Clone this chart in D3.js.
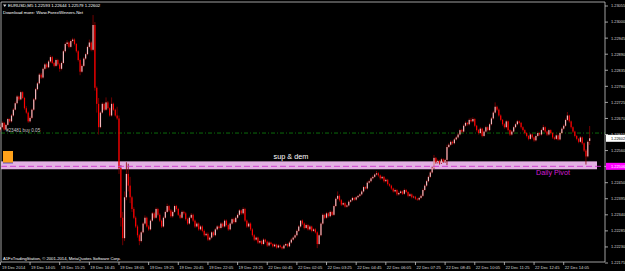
<!DOCTYPE html>
<html>
<head>
<meta charset="utf-8">
<script src="https://cdn.jsdelivr.net/npm/d3@7"></script>
<style>
  html, body { margin: 0; padding: 0; background: #000; overflow: hidden; }
  text { font-family: "Liberation Sans", Arial, sans-serif; }
</style>
</head>
<body>
<div id="chart"></div>
<script>
// EURUSD M5 bars, values are (price - 1.22) * 1e5 : [open, high, low, close]
const bars = [
  [632,652,625,640],[640,660,636,655],[655,658,628,632],[632,652,630,648],[648,672,645,668],
  [668,670,655,660],[660,685,656,680],[680,705,676,700],[700,728,697,722],[722,750,718,745],
  [745,748,730,735],[735,765,732,760],[760,763,736,740],[740,744,700,705],[705,712,686,690],
  [690,694,655,660],[660,678,656,672],[672,704,668,700],[700,740,696,735],[735,775,731,770],
  [770,795,766,790],[790,825,786,820],[820,826,805,810],[810,845,806,840],[840,860,835,855],
  [855,860,840,845],[845,870,842,865],[865,886,860,880],[880,884,856,860],[860,864,845,850],
  [850,875,846,870],[870,874,850,855],[855,860,830,840],[840,865,835,860],[860,905,856,900],
  [900,930,895,925],[925,938,918,930],[930,934,910,915],[915,940,912,935],[935,946,930,940],
  [940,944,920,925],[925,928,895,900],[900,904,865,870],[870,875,818,830],[830,856,826,850],
  [850,880,846,875],[875,895,870,890],[890,920,886,915],[915,940,910,930],[930,934,900,905],
  [905,1024,900,990],[990,1000,765,775],[775,780,690,720],[720,740,615,640],[640,695,636,690],
  [690,725,686,720],[720,724,696,700],[700,742,696,725],[725,730,700,705],[705,708,676,680],
  [680,742,676,720],[720,724,696,700],[700,704,676,680],[680,710,665,670],[670,680,480,500],
  [500,510,300,330],[330,350,236,260],[260,420,250,400],[400,520,390,480],[480,515,420,440],
  [440,470,380,400],[400,405,350,360],[360,366,325,330],[330,335,295,300],[300,306,262,270],
  [270,275,236,250],[250,285,245,280],[280,315,276,310],[310,338,305,330],[330,334,296,300],
  [300,305,285,290],[290,325,286,320],[320,350,316,345],[345,350,325,330],[330,365,326,360],
  [360,364,335,340],[340,345,315,320],[320,324,295,300],[300,335,296,330],[330,355,326,350],
  [350,378,346,370],[370,374,350,355],[355,360,330,335],[335,355,330,350],[350,375,346,370],
  [370,374,355,360],[360,364,336,340],[340,345,325,330],[330,355,326,350],[350,354,340,345],
  [345,350,320,325],[325,330,305,310],[310,335,306,330],[330,346,326,340],[340,344,315,320],
  [320,324,295,300],[300,315,296,310],[310,314,285,290],[290,305,286,300],[300,304,280,285],
  [285,290,265,270],[270,280,266,275],[275,280,250,255],[255,268,250,262],[262,285,258,280],
  [280,284,265,270],[270,295,266,290],[290,305,286,300],[300,304,290,295],[295,315,290,310],
  [310,314,296,300],[300,325,296,320],[320,324,300,305],[305,310,285,290],[290,315,286,310],
  [310,330,306,325],[325,330,310,315],[315,335,311,330],[330,345,326,340],[340,360,336,355],
  [355,358,340,345],[345,366,340,360],[360,364,315,320],[320,324,295,300],[300,315,296,310],
  [310,314,285,290],[290,294,265,270],[270,274,250,255],[255,266,250,262],[262,265,240,245],
  [245,255,240,250],[250,254,235,240],[240,260,236,255],[255,258,244,248],[248,252,230,235],
  [235,250,231,245],[245,248,236,240],[240,243,228,232],[232,242,229,238],[238,241,224,228],
  [228,240,225,235],[235,238,226,230],[230,233,221,225],[225,240,222,235],[235,245,232,240],
  [240,243,228,232],[232,250,229,245],[245,260,241,255],[255,266,251,262],[262,275,258,270],
  [270,290,266,285],[285,305,281,300],[300,322,296,320],[320,324,305,310],[310,314,290,295],
  [295,310,291,305],[305,308,286,290],[290,305,286,300],[300,303,280,285],[285,295,281,290],
  [290,294,276,280],[280,284,226,240],[240,275,236,270],[270,315,266,310],[310,345,306,340],
  [340,344,325,330],[330,350,326,345],[345,349,330,335],[335,355,331,350],[350,354,336,340],
  [340,375,336,370],[370,400,366,395],[395,420,390,405],[405,410,385,390],[390,394,370,375],
  [375,385,371,380],[380,384,364,368],[368,376,364,372],[372,390,368,385],[385,394,381,390],
  [390,402,386,398],[398,401,388,392],[392,404,388,400],[400,408,396,405],[405,414,401,410],
  [410,425,406,420],[420,440,416,435],[435,438,426,430],[430,455,426,450],[450,460,446,455],
  [455,470,451,465],[465,475,461,470],[470,482,466,478],[478,490,474,482],[482,486,470,475],
  [475,478,460,465],[465,474,461,470],[470,473,450,455],[455,465,451,460],[460,463,440,445],
  [445,448,436,440],[440,443,425,430],[430,433,416,420],[420,430,416,425],[425,428,405,410],
  [410,420,406,415],[415,425,411,420],[420,423,408,412],[412,430,408,425],[425,428,414,418],
  [418,421,400,405],[405,415,401,410],[410,413,396,400],[400,406,396,402],[402,405,391,395],
  [395,398,388,392],[392,402,388,398],[398,410,394,405],[405,430,401,425],[425,445,421,440],
  [440,460,436,455],[455,475,451,470],[470,490,466,485],[485,505,481,500],[500,545,496,535],
  [535,538,515,520],[520,530,516,525],[525,528,512,518],[518,535,514,530],[530,533,518,522],
  [522,532,518,528],[528,580,510,572],[572,585,568,580],[580,595,576,590],[590,594,580,585],
  [585,603,581,598],[598,610,594,605],[605,620,601,615],[615,635,611,630],[630,634,620,625],
  [625,650,621,645],[645,660,641,655],[655,658,645,650],[650,670,646,665],[665,672,656,660],
  [660,674,656,668],[668,671,640,645],[645,648,625,630],[630,634,615,620],[620,640,616,635],
  [635,638,605,610],[610,630,606,625],[625,645,621,640],[640,643,625,630],[630,655,626,650],
  [650,675,646,670],[670,695,666,690],[690,725,686,710],[710,714,695,700],[700,704,676,680],
  [680,684,660,665],[665,668,645,650],[650,654,635,640],[640,665,636,660],[660,663,625,630],
  [630,633,610,615],[615,630,611,625],[625,645,621,640],[640,655,636,650],[650,665,646,660],
  [660,663,650,655],[655,658,635,640],[640,643,625,630],[630,633,615,620],[620,623,605,610],
  [610,613,595,600],[600,620,596,615],[615,618,600,605],[605,608,590,595],[595,615,591,610],
  [610,625,606,620],[620,623,610,615],[615,635,611,630],[630,648,626,640],[640,643,620,625],
  [625,628,610,615],[615,635,611,630],[630,633,615,620],[620,623,600,605],[605,608,596,600],
  [600,616,596,612],[612,615,594,598],[598,625,594,620],[620,640,616,635],[635,650,631,645],
  [645,670,641,665],[665,692,661,680],[680,683,655,660],[660,663,635,640],[640,643,620,625],
  [625,628,605,610],[610,613,595,600],[600,603,585,590],[590,610,586,605],[605,608,580,585],
  [585,588,555,560],[560,565,512,540],[540,595,536,590],[593,644,579,602]
];

const priceTicks = [1.23055, 1.23000, 1.22945, 1.22890, 1.22835, 1.22780, 1.22725, 1.22670,
  1.22615, 1.22560, 1.22505, 1.22450, 1.22395, 1.22340, 1.22285, 1.22230, 1.22175];

const timeLabels = ["19 Dec 2014", "19 Dec 14:05", "19 Dec 15:25", "19 Dec 16:45", "19 Dec 18:05",
  "19 Dec 19:25", "19 Dec 20:45", "19 Dec 22:05", "19 Dec 23:25", "22 Dec 00:45", "22 Dec 02:05",
  "22 Dec 03:25", "22 Dec 04:45", "22 Dec 06:05", "22 Dec 07:25", "22 Dec 08:45", "22 Dec 10:05",
  "22 Dec 11:25", "22 Dec 12:45", "22 Dec 14:05"];
const barsPerLabel = 16;

const header = "EURUSD,M5  1.22593 1.22644 1.22579 1.22602";
const zoneTop = 1.22523, zoneBottom = 1.22496;   // "sup & dem" rectangle
const dailyPivot = 1.22506;
const orderPrice = 1.22620;                       // #23481 buy 0.05
const bidPrice = 1.22602;

const W = 625, H = 271;
const plotL = 1, plotR = 605, plotT = 2, plotB = 262;

const svg = d3.select("#chart").append("svg")
  .attr("width", W).attr("height", H)
  .style("display", "block")
  .style("background", "#000");

const data = bars.map((b, i) => ({
  i, o: 1.22 + b[0] / 1e5, h: 1.22 + b[1] / 1e5, l: 1.22 + b[2] / 1e5, c: 1.22 + b[3] / 1e5
}));

const x = d3.scaleLinear().domain([0, data.length - 1]).range([0.4, 0.4 + (data.length - 1) * 1.853]);
const y = d3.scaleLinear().domain([1.22175, 1.23055]).range([263, 6]);

// sup & dem zone
svg.append("rect")
  .attr("x", plotL).attr("width", 596)
  .attr("y", y(zoneTop)).attr("height", y(zoneBottom) - y(zoneTop))
  .attr("fill", "#e3b0e3");

svg.append("text")
  .attr("x", 291).attr("y", 159)
  .attr("text-anchor", "middle")
  .style("font-size", "7.3px").style("fill", "#ffffff")
  .text("sup & dem");

// order line
svg.append("line")
  .attr("x1", plotL).attr("x2", plotR)
  .attr("y1", y(orderPrice)).attr("y2", y(orderPrice))
  .attr("stroke", "#0b6a0b").attr("stroke-width", 1)
  .attr("stroke-dasharray", "4,2,1,2");

svg.append("text")
  .attr("x", 6).attr("y", y(orderPrice) - 1.5)
  .style("font-size", "4.6px").style("fill", "#c8c8c8")
  .text("#23481 buy 0.05");

// orange marker
svg.append("rect").attr("x", 3).attr("y", 151).attr("width", 10).attr("height", 12).attr("fill", "#ffa21a");
svg.append("line").attr("x1", 3).attr("x2", 13).attr("y1", 163).attr("y2", 163).attr("stroke", "#3a3ac0").attr("stroke-width", 0.8);

// candles
const g = svg.append("g");
g.selectAll("line.wick").data(data).join("line")
  .attr("class", "wick")
  .attr("x1", d => x(d.i)).attr("x2", d => x(d.i))
  .attr("y1", d => y(d.h)).attr("y2", d => y(d.l))
  .attr("stroke", "#8b0000").attr("stroke-width", 0.8);

g.selectAll("rect.body").data(data).join("rect")
  .attr("class", "body")
  .attr("x", d => x(d.i) - 0.6).attr("width", 1.2)
  .attr("y", d => y(Math.max(d.o, d.c)))
  .attr("height", d => Math.max(0.6, Math.abs(y(d.o) - y(d.c))))
  .attr("fill", d => d.c >= d.o ? "#f4b8bc" : "#ff0000");

// daily pivot
svg.append("line")
  .attr("x1", plotL).attr("x2", plotR + 3)
  .attr("y1", y(dailyPivot)).attr("y2", y(dailyPivot))
  .attr("stroke", "#cc33cc").attr("stroke-width", 0.9)
  .attr("stroke-dasharray", "6,3");

svg.append("text")
  .attr("x", 536).attr("y", 175)
  .style("font-size", "7.2px").style("fill", "#d21ed2")
  .text("Daily Pivot");

// frame
svg.append("path")
  .attr("d", `M${plotL},${plotB}V${plotT}H${plotR}V${plotB}H${plotL}`)
  .attr("fill", "none").attr("stroke", "#c8c8c8").attr("stroke-width", 0.8);

// price axis
const pa = svg.append("g");
pa.selectAll("line").data(priceTicks).join("line")
  .attr("x1", plotR).attr("x2", plotR + 3)
  .attr("y1", d => y(d)).attr("y2", d => y(d))
  .attr("stroke", "#c8c8c8").attr("stroke-width", 0.8);
pa.selectAll("text").data(priceTicks).join("text")
  .attr("x", 611).attr("y", d => y(d) + 1.4)
  .style("font-size", "3.9px").style("fill", "#d8d8d8")
  .text(d => d.toFixed(5));

// bid label
svg.append("rect").attr("x", 606).attr("y", y(bidPrice) - 3.5).attr("width", 19).attr("height", 7).attr("fill", "#ffffff");
svg.append("text").attr("x", 611).attr("y", y(bidPrice) + 1.4)
  .style("font-size", "3.9px").style("fill", "#000").text(bidPrice.toFixed(5));

// pivot label
svg.append("rect").attr("x", 606).attr("y", y(dailyPivot) - 3.5).attr("width", 19).attr("height", 7).attr("fill", "#ff00ff");
svg.append("text").attr("x", 611).attr("y", y(dailyPivot) + 1.4)
  .style("font-size", "3.9px").style("fill", "#ffffff").text(dailyPivot.toFixed(5));

// time axis
const ta = svg.append("g");
const tl = timeLabels.map((t, k) => ({ t, i: k * barsPerLabel }));
ta.selectAll("line").data(tl).join("line")
  .attr("x1", d => x(d.i)).attr("x2", d => x(d.i))
  .attr("y1", plotB).attr("y2", plotB + 3)
  .attr("stroke", "#c8c8c8").attr("stroke-width", 0.8);
ta.selectAll("text").data(tl).join("text")
  .attr("x", d => d.i === 0 ? 2 : x(d.i) + 1).attr("y", 268.5)
  .style("font-size", "4.1px").style("fill", "#d8d8d8")
  .text(d => d.t);

// header and footer
svg.append("path").attr("d", "M3,4.5L6.5,4.5L4.75,7Z").attr("fill", "#d8d8d8");
svg.append("text").attr("x", 8).attr("y", 7.2)
  .style("font-size", "4.3px").style("fill", "#ffffff").text(header);
svg.append("text").attr("x", 3).attr("y", 13.5)
  .style("font-size", "4.4px").style("fill", "#ffffff").text("Download more: Www.ForexWinners.Net");
svg.append("text").attr("x", 3).attr("y", 259.5)
  .style("font-size", "4.2px").style("fill", "#ffffff").text("A1FxTradingStation, © 2001-2014, MetaQuotes Software Corp.");
</script>
</body>
</html>
